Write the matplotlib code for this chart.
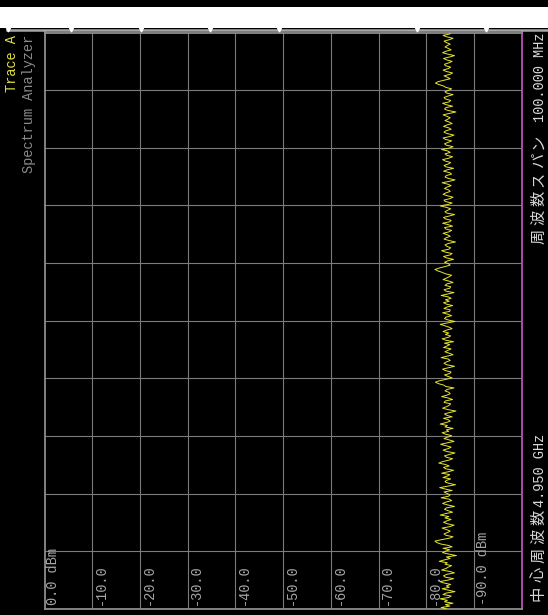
import matplotlib
matplotlib.use("Agg")
import matplotlib.pyplot as plt
from matplotlib.patches import Rectangle
from matplotlib.lines import Line2D
from matplotlib.transforms import ScaledTranslation

# ---- data -------------------------------------------------------------
center_ghz = 4.950
span_mhz = 100.0
ref_level_dbm = 0.0
db_per_div = 10.0

amp_grid_dbm = [0, -10, -20, -30, -40, -50, -60, -70, -80, -90]
amp_labels = ["0.0 dBm", "-10.0", "-20.0", "-30.0", "-40.0",
              "-50.0", "-60.0", "-70.0", "-80.0", "-90.0 dBm"]

# trace A, from start frequency to stop frequency (dBm)
trace_dbm = [
    -84.3, -83.1, -84.9, -84.0, -85.6, -83.8, -84.4, -82.9, -84.7, -85.2,
    -83.5, -84.1, -86.0, -84.6, -83.3, -84.8, -84.2, -85.1, -83.7, -82.8,
    -84.5, -85.7, -84.0, -83.6, -84.3, -85.9, -84.9, -83.2, -84.1, -84.6,
    -85.3, -83.9, -84.4, -82.7, -83.8, -85.0, -84.2, -86.3, -84.7, -83.4,
    -84.0, -84.9, -83.5, -85.4, -84.6, -83.0, -82.2, -81.8, -83.2, -84.8,
    -85.6, -84.1, -83.7, -84.5, -85.0, -84.2, -83.3, -84.9, -85.8, -84.4,
    -83.6, -84.3, -85.2, -83.9, -84.7, -82.9, -84.0, -85.5, -84.6, -83.8,
    -84.2, -85.9, -84.5, -83.4, -84.1, -85.3, -84.8, -83.1, -84.6, -85.0,
    -84.3, -83.7, -85.4, -84.0, -82.8, -84.5, -86.1, -84.7, -83.9, -84.2,
    -85.1, -83.5, -84.4, -84.9, -83.2, -84.6, -85.7, -84.1, -83.6, -84.8,
    -84.0, -82.6, -83.4, -84.7, -85.5, -84.2, -83.8, -84.9, -86.0, -84.3,
    -83.5, -84.6, -85.2, -84.1, -83.0, -84.4, -85.8, -84.8, -83.7, -84.5,
    -85.3, -84.0, -83.3, -84.7, -84.2, -85.6, -83.9, -84.4, -82.9, -84.1,
    -85.0, -84.6, -83.6, -85.4, -84.3, -83.8, -84.9, -86.2, -84.5, -83.4,
    -84.2, -84.8, -85.1, -83.7, -84.0, -85.5, -84.6, -83.2, -84.3, -85.0,
    -84.7, -83.9, -84.4, -85.8, -84.1, -83.6, -82.5, -81.9, -82.8, -84.2,
    -85.4, -84.5, -83.8, -84.9, -85.2, -84.0, -83.4, -84.7, -85.9, -84.3,
    -83.7, -84.2, -85.0, -84.6, -83.1, -84.4, -85.6, -84.8, -83.9, -84.5,
    -85.2, -83.6, -84.3, -84.9, -83.8, -85.7, -84.1, -83.3, -84.6, -85.1,
    -84.0, -84.7, -83.5, -84.2, -85.4, -84.8, -83.9, -82.9, -84.4, -86.0,
    -84.6, -83.8, -84.1, -85.3, -84.5, -83.4, -84.9, -85.0, -83.7, -84.3,
    -85.5, -84.2, -83.6, -84.8, -84.0, -85.2, -84.6, -83.1, -84.4, -85.8,
    -84.1, -83.7, -84.9, -85.1, -83.9, -84.3, -85.6, -84.7, -83.5, -84.2,
    -84.8, -85.3, -84.0, -83.3, -82.4, -81.8, -82.7, -83.9, -85.0, -84.6,
    -83.8, -84.5, -85.7, -84.2, -83.6, -84.9, -85.4, -84.0, -83.2, -84.7,
    -85.1, -84.3, -83.9, -84.6, -86.1, -84.8, -83.7, -84.2, -85.0, -84.4,
    -83.5, -84.7, -85.3, -84.1, -83.8, -85.5, -84.6, -83.4, -84.9, -85.2,
    -84.0, -83.6, -84.8, -85.9, -84.3, -83.9, -84.5, -85.1, -84.2, -82.9,
    -84.6, -85.4, -84.0, -83.7, -84.9, -85.6, -84.4, -83.5, -84.1, -85.0,
    -84.7, -83.8, -84.3, -85.2, -84.5, -83.3, -84.8, -86.0, -84.6, -83.9,
    -84.2, -85.3, -84.9, -83.6, -84.4, -85.7, -84.1, -83.7, -84.6, -85.1,
    -84.0, -83.4, -84.7, -85.5, -84.3, -83.9, -85.0, -84.5, -83.2, -84.8,
    -85.6, -84.2, -83.8, -84.6, -85.3, -84.0, -83.5, -84.9, -85.8, -84.4,
    -83.7, -84.1, -85.2, -84.7, -83.6, -84.3, -85.4, -84.8, -83.9, -84.5,
    -85.0, -84.3, -83.5, -84.9, -86.2, -84.6, -83.8, -84.1, -85.5, -84.2,
    -83.4, -84.8, -85.1, -84.0, -83.7, -84.5, -85.6, -84.3, -83.9, -84.7,
    -85.3, -84.1, -83.6, -82.6, -81.9, -82.5, -83.8, -85.0, -84.4, -83.7,
    -84.9, -85.5, -84.2, -83.5, -84.6, -85.1, -84.0, -83.8, -84.7, -85.4,
    -84.3, -83.6, -84.8, -85.9, -84.5, -83.4, -84.1, -85.2, -84.6, -83.9,
    -84.4, -85.0, -84.2, -83.7, -84.8, -85.6, -84.3, -83.5, -84.9, -85.1,
]

span_cjk, span_value = "周波数スパン", "100.000 MHz"
center_cjk, center_value = "中心周波数", "4.950 GHz"
trace_name = "Trace A"
mode_name = "Spectrum Analyzer"

# ---- figure -----------------------------------------------------------
W_PX, H_PX = 548, 615
fig = plt.figure(figsize=(W_PX / 100, H_PX / 100), dpi=100, facecolor="black")


def fx(x):
    return x / W_PX


def fy(y):
    return 1 - y / H_PX


MONO = ["Liberation Mono", "Noto Sans CJK JP"]
CJK = ["Noto Sans CJK JP", "DejaVu Sans"]
FS = 9.8
CJK_FS = 11.0
CJK_PITCH = 19.0

# window title strip across the top
fig.patches.append(Rectangle((0, fy(28)), 1, fy(7) - fy(28), transform=fig.transFigure,
                             facecolor="white", edgecolor="none", zorder=0))
fig.lines.append(Line2D([fx(7), 1], [fy(29.6), fy(29.6)], transform=fig.transFigure,
                        color="#a8a8a8", lw=1.8, zorder=1))
for nx in [8, 71, 141, 210, 279, 417, 486]:
    fig.lines.append(Line2D([fx(nx)], [fy(28.6)], transform=fig.transFigure,
                            marker="v", markersize=3.5, color="white", lw=0,
                            zorder=2))

# graticule (rotated display: amplitude runs left to right, frequency bottom to top)
left, right, top, bottom = 44.5, 521.8, 32.5, 609.0
ax = fig.add_axes([fx(left), fy(bottom), fx(right) - fx(left), fy(top) - fy(bottom)])
ax.set_facecolor("black")

f_start = center_ghz - span_mhz / 2000
f_stop = center_ghz + span_mhz / 2000
ax.set_xlim(ref_level_dbm, ref_level_dbm - 10 * db_per_div)
ax.set_ylim(f_start, f_stop)

ax.set_xticks(amp_grid_dbm[1:])
freq_step = span_mhz / 10 / 1000
ax.set_yticks([f_start + k * freq_step for k in range(1, 10)])
ax.tick_params(length=0, labelbottom=False, labelleft=False)
ax.grid(True, color="#7c7c7c", lw=0.8)
for side in ["left", "top", "bottom"]:
    ax.spines[side].set_color("#8c8c8c")
    ax.spines[side].set_linewidth(1.3)
ax.spines["right"].set_color("#b048b0")
ax.spines["right"].set_linewidth(1.4)

n = len(trace_dbm)
freqs = [f_start + (f_stop - f_start) * i / (n - 1) for i in range(n)]
ax.plot(trace_dbm, freqs, color="#e4e432", lw=0.7, zorder=3)

# amplitude scale labels along the bottom of each column
for v, lab in zip(amp_grid_dbm, amp_labels):
    tr = ax.transData + ScaledTranslation(0.125, 0.035, fig.dpi_scale_trans)
    ax.text(v, f_start, lab, transform=tr, rotation=90, rotation_mode="anchor",
            ha="left", va="baseline", color="#a6a6a6", fontsize=FS,
            family=MONO, zorder=4)

# side annotations
fig.text(fx(16.5), fy(35), trace_name, rotation=90, rotation_mode="anchor",
         ha="right", va="baseline", color="#e0e040", fontsize=FS, family=MONO)
fig.text(fx(33.5), fy(35), mode_name, rotation=90, rotation_mode="anchor",
         ha="right", va="baseline", color="#8a8a8a", fontsize=FS, family=MONO)


def cjk_column(chars, x_center, y_bottom_center, color):
    """Draw CJK characters stacked upward, one per cell."""
    for k, ch in enumerate(chars):
        fig.text(fx(x_center), fy(y_bottom_center - k * CJK_PITCH), ch,
                 rotation=90, ha="center", va="center", color=color,
                 fontsize=CJK_FS, family=CJK)


TXT = "#d8d8d8"
# frequency span (upper right)
fig.text(fx(543.5), fy(33), span_value, rotation=90, rotation_mode="anchor",
         ha="right", va="baseline", color=TXT, fontsize=FS, family=MONO)
cjk_column(span_cjk, 538.5, 236, TXT)
# center frequency (lower right)
cjk_column(center_cjk, 538.5, 593, TXT)
fig.text(fx(543.5), fy(507), center_value, rotation=90, rotation_mode="anchor",
         ha="left", va="baseline", color=TXT, fontsize=FS, family=MONO)

fig.savefig("out.png", dpi=100, facecolor="black")
